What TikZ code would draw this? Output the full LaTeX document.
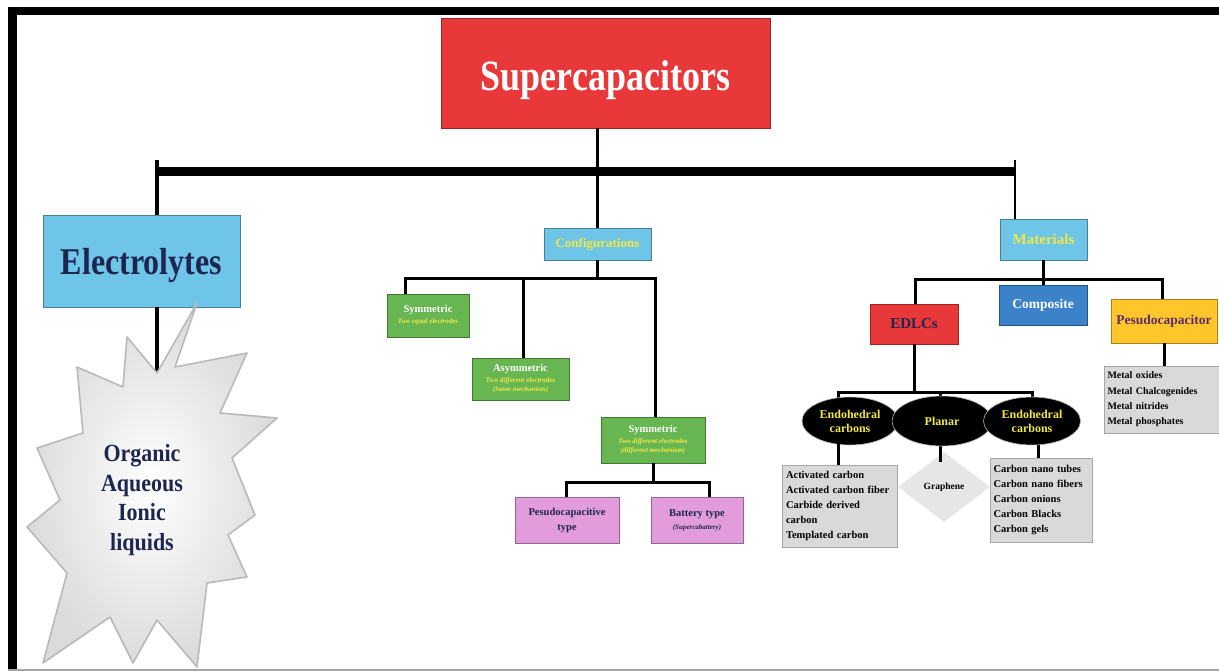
\documentclass[tikz,border=0pt]{standalone}
\usepackage{graphicx}
\usepackage{fontspec}
\setmainfont{Liberation Serif}
\usetikzlibrary{shapes.geometric}
\definecolor{scred}{RGB}{232,56,58}
\definecolor{lblue}{RGB}{110,197,232}
\definecolor{navy}{RGB}{30,38,80}
\definecolor{ytext}{RGB}{240,232,70}
\definecolor{gbox}{RGB}{104,182,82}
\definecolor{pbox}{RGB}{226,155,219}
\definecolor{cblue}{RGB}{59,130,200}
\definecolor{pyel}{RGB}{255,198,44}
\definecolor{ptext}{RGB}{90,45,106}
\definecolor{grybox}{RGB}{217,217,217}
\definecolor{dmd}{RGB}{230,230,230}
\newcommand\subtxt[1]{{\color{ytext}\itshape\fontsize{7}{8}\selectfont #1}}
\begin{document}
\begin{tikzpicture}[x=1pt,y=-1pt,
  fs/.style n args={2}{font=\fontsize{#1}{#2}\selectfont\bfseries},
  box/.style={draw=#1!65!black, line width=0.9pt, fill=#1, align=center, inner sep=1pt},
  conn/.style={line width=3pt, black},
  ell/.style={ellipse, fill=black, draw=gray!60, line width=0.6pt, text=ytext, align=center, fs={12}{14}, inner sep=0pt},
  listbox/.style={draw=gray!70, line width=0.9pt, fill=grybox, align=left, inner sep=3pt, anchor=center}
]
\useasboundingbox (0,0) rectangle (1219,671);
\fill[white] (0,0) rectangle (1219,671);
% frame
\fill[black] (8,7) rectangle (1219,15);
\fill[black] (8,7) rectangle (17,671);
\draw[gray!70, line width=1.5pt] (8,670) -- (1219,670);

% nodes
\node[box=scred, minimum width=329, minimum height=110, text=white, fs={36}{40}] (sc) at (605.5,73) {\raisebox{-7pt}[\height][\depth]{\scalebox{1}[1.2]{Supercapacitors}}};
\node[box=lblue, minimum width=197, minimum height=92, text=navy, fs={32}{36}] (el) at (141.5,261) {\raisebox{-4pt}[\height][\depth]{\scalebox{1}[1.18]{Electrolytes}}};
\node[box=lblue, minimum width=107, minimum height=32, text=ytext, fs={13}{15}] (cfg) at (597.5,244) {Configurations};
\node[box=lblue, minimum width=87, minimum height=41, text=ytext, fs={15}{17}] (mat) at (1043.5,239.5) {Materials};

\node[box=gbox, minimum width=82, minimum height=43, text=white, fs={10.5}{10}] (sym1) at (428,315.5) {Symmetric\\[1pt]\subtxt{Two equal electrodes}};
\node[box=gbox, minimum width=97, minimum height=42, text=white, fs={10.5}{10}] (asym) at (520.5,379) {Asymmetric\\[1pt]\subtxt{Two different electrodes}\\[-1pt]\subtxt{(Same mechanism)}};
\node[box=gbox, minimum width=104, minimum height=46, text=white, fs={10.5}{10}] (sym2) at (653,440) {Symmetric\\[1pt]\subtxt{Two different electrodes}\\[-1pt]\subtxt{(different mechanism)}};

\node[box=pbox, minimum width=104, minimum height=46, text=navy, fs={10.5}{15}] (pk1) at (567,520) {Pesudocapacitive\\type};
\node[box=pbox, minimum width=92, minimum height=46, text=navy, fs={10.5}{13}] (pk2) at (697,520) {Battery type\\{\itshape\fontsize{7}{8}\selectfont (Supercabattery)}};

\node[box=scred, minimum width=88, minimum height=40, text=navy, fs={15}{17}] (edlc) at (914,324) {EDLCs};
\node[box=cblue, minimum width=88, minimum height=40, text=white, fs={13.5}{15}] (comp) at (1043,305) {Composite};
\node[box=pyel, minimum width=106, minimum height=44, text=ptext, fs={13.5}{15}] (pseu) at (1164,321) {Pesudocapacitor};

% connectors
\coordinate (barL) at (157,172);
\coordinate (barR) at (1015,172);
\coordinate (stTop) at (157,378);
\draw[conn] (cfg.north |- sc.south) -- (cfg.north);
\draw[line width=9pt] (barL) -- (barR);
\draw[line width=3.5pt] (157,160) -- (barL |- el.north);
\draw[line width=2.5pt] (1015,160) -- (barR |- mat.north);
\draw[line width=4pt] (barL |- el.south) -- (stTop);

\coordinate (cbL) at (405,279);
\coordinate (cbR) at (655,279);
\draw[conn] (cfg.south) -- (cfg.south |- cbL);
\draw[conn] ([xshift=-1.5pt]cbL) -- ([xshift=1.5pt]cbR);
\draw[conn] (cbL) -- (cbL |- sym1.north);
\draw[conn] (523,279) -- (523,358);
\draw[conn] (cbR) -- (cbR |- sym2.north);

\coordinate (pbL) at (566,482);
\coordinate (pbR) at (709,482);
\draw[conn] (sym2.south) -- (sym2.south |- pbL);
\draw[conn] ([xshift=-1.5pt]pbL) -- ([xshift=1.5pt]pbR);
\draw[conn] (pbL) -- (pbL |- pk1.north);
\draw[conn] (pbR) -- (pbR |- pk2.north);

\coordinate (mbL) at (915,280);
\coordinate (mbR) at (1162,280);
\draw[conn] (mat.south) -- (mat.south |- mbL);
\draw[conn] ([xshift=-1.5pt]mbL) -- ([xshift=1.5pt]mbR);
\draw[conn] (mbL) -- (mbL |- edlc.north);
\draw[conn] (comp.north |- mbL) -- (comp.north);
\draw[conn] (mbR) -- (mbR |- pseu.north);

\node[listbox, fs={10}{15.3}, minimum width=115, minimum height=67, text width=108] (metal) at (1161.5,399.5) {Metal oxides\\Metal Chalcogenides\\Metal nitrides\\Metal phosphates};
\draw[conn] (pseu.south) -- (pseu.south |- metal.north);

\coordinate (ebL) at (838,392);
\coordinate (ebR) at (1032,392);
\draw[conn] (edlc.south) -- (edlc.south |- ebL);
\draw[conn] ([xshift=-1.5pt]ebL) -- ([xshift=1.5pt]ebR);
\draw[conn] (ebL) -- (838,405);
\draw[conn] (940,392) -- (940,405);
\draw[conn] (ebR) -- (1032,405);

\node[listbox, fs={10.5}{15.2}, minimum width=115, minimum height=82, text width=107] (b1) at (839.5,506) {Activated carbon\\Activated carbon fiber\\Carbide derived\\carbon\\Templated carbon};
\node[diamond, fill=dmd, minimum width=92, minimum height=70, inner sep=0pt, fs={9.5}{11}] (dm) at (944,487) {Graphene};
\node[listbox, fs={10.5}{15.2}, minimum width=102, minimum height=84, text width=95] (b3) at (1041,500) {Carbon nano tubes\\Carbon nano fibers\\Carbon onions\\Carbon Blacks\\Carbon gels};

\node[ell, minimum width=96, minimum height=48] (e1) at (850,421) {Endohedral\\carbons};
\draw[conn] (838,440) -- (838,465);
\draw[conn] (940,440) -- (940,462);
\draw[conn] (1038,440) -- (1038,458);
\node[ell, minimum width=100, minimum height=50] (e2) at (942,421) {Planar};
\node[ell, minimum width=97, minimum height=48] (e3) at (1032,421) {Endohedral\\carbons};

% star
\shade[draw=gray!55, line width=1.6pt, inner color=white, outer color=gray!28, line join=round]
 (197,303) -- (175,367) -- (247,353) -- (220,413) -- (277,418) -- (232,458) -- (255,515) -- (228,535) -- (247,577) -- (207,583) -- (197,667) -- (157,620) -- (133,663) -- (110,617) -- (43,663) -- (67,573) -- (27,527) -- (60,500) -- (37,448) -- (83,433) -- (77,367) -- (123,387) -- (127,337) -- (157,373) -- cycle;
\node[text=navy, align=center, fs={22}{29.5}] (st) at (142,500) {\scalebox{1}[1.12]{Organic}\\\scalebox{1}[1.12]{Aqueous}\\\scalebox{1}[1.12]{Ionic}\\\scalebox{1}[1.12]{liquids}};
\end{tikzpicture}
\end{document}
